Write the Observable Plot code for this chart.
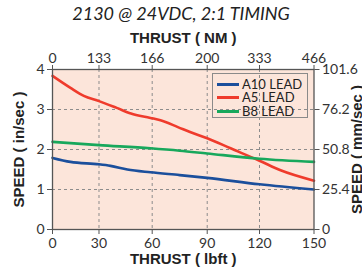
<!DOCTYPE html>
<html><head><meta charset="utf-8">
<script src="https://cdn.jsdelivr.net/npm/d3@7"></script>
<script src="https://cdn.jsdelivr.net/npm/@observablehq/plot@0.6"></script>
<style>
body{margin:0;background:#fff;width:362px;height:273px;overflow:hidden;position:relative;font-family:Lato,"Open Sans",sans-serif;}
#title{height:26px;line-height:26px;text-align:center;font-size:18px;font-style:italic;font-weight:400;color:#222;width:362px;}
#chart svg{display:block;}
#legend{position:absolute;left:212px;top:73px;width:96px;height:45px;border:1px solid #8a8a8a;box-sizing:border-box;}
.row{position:absolute;left:4px;height:13px;line-height:13px;display:flex;align-items:center;font-size:13px;color:#222;}
.row span{line-height:13px;}
.sw{width:22px;height:3px;margin-right:3px;}
</style></head>
<body>
<div id="title">2130 @ 24VDC, 2:1 TIMING</div>
<div id="chart"></div>
<div id="legend"></div>
<script>
const seriesNames = ["A10 LEAD", "A5 LEAD", "B8 LEAD"];
const seriesColors = ["#1b4f9c", "#ef3b2c", "#18a85c"];
const a10X = [0, 11.6, 30, 36.5, 46, 59, 75, 90, 120, 150];
const a10Y = [1.79, 1.69, 1.63, 1.59, 1.50, 1.43, 1.36, 1.29, 1.13, 1.00];
const a5X = [0, 11.6, 20.2, 30, 40, 48, 59, 64.5, 74, 81, 90, 103.4, 120, 131.6, 150];
const a5Y = [3.84, 3.54, 3.34, 3.21, 3.04, 2.90, 2.79, 2.73, 2.56, 2.43, 2.28, 2.03, 1.72, 1.48, 1.22];
const b8X = [0, 30, 59, 75, 90, 120, 150];
const b8Y = [2.19, 2.11, 2.03, 1.97, 1.90, 1.77, 1.69];
const xTicks = [0, 30, 60, 90, 120, 150];
// the printed axis is not evenly spaced: where each tick sits along the axis (0..150 of its length)
const xTickPlacement = [0, 26.67, 57.19, 88.74, 118.74, 150];
const topTickLabels = ["0", "133", "166", "200", "333", "466"];
const yTicks = [0, 1, 2, 3, 4];
const rightTickLabels = ["0", "25.4", "50.8", "76.2", "101.6"];
const xGrid = [30, 60, 90, 120];
const yGrid = [1, 2, 3];

const data = [];
[[a10X, a10Y], [a5X, a5Y], [b8X, b8Y]].forEach(([xs, ys], k) =>
  xs.forEach((x, i) => data.push({series: seriesNames[k], x, y: ys[i]})));

const warp = d3.scaleLinear().domain(xTicks).range(xTickPlacement);
const boldFont = '"Liberation Sans Narrow","Liberation Sans",sans-serif';
const lab = {fontSize: 15, fontWeight: "bold", fontFamily: boldFont, fill: "#222", lineAnchor: "middle", textAnchor: "middle"};
const chart = Plot.plot({
  width: 362, height: 247,
  marginTop: 43, marginBottom: 44, marginLeft: 52, marginRight: 48.5,
  style: {fontFamily: 'Lato,"Open Sans",sans-serif', fontSize: "14px", color: "#333", background: "transparent", overflow: "visible"},
  x: {domain: [0, 150], transform: warp, label: null},
  y: {domain: [0, 4], label: null},
  color: {domain: seriesNames, range: seriesColors},
  marks: [
    Plot.frame({fill: "#fce5da", stroke: "none"}),
    Plot.gridX(xGrid, {stroke: "#8c8c8c", strokeOpacity: 1, strokeDasharray: "3,3"}),
    Plot.gridY(yGrid, {stroke: "#8c8c8c", strokeOpacity: 1, strokeDasharray: "3,3"}),
    Plot.line(data, {x: "x", y: "y", z: "series", stroke: "series", strokeWidth: 2.6, curve: "monotone-x"}),
    Plot.frame({stroke: "#555", strokeWidth: 1.3}),
    Plot.axisX(xTicks, {anchor: "bottom", tickSize: 5, tickPadding: 4, stroke: "#555", fontSize: 14, label: null,
      tickFormat: d => String(d)}),
    Plot.axisX(xTicks, {anchor: "top", tickSize: 5, tickPadding: 2, stroke: "#555", fontSize: 14, label: null,
      tickFormat: d => topTickLabels[xTicks.indexOf(d)]}),
    Plot.axisY(yTicks, {anchor: "left", tickSize: 5, tickPadding: 3, stroke: "#555", fontSize: 14, label: null}),
    Plot.axisY(yTicks, {anchor: "right", tickSize: 5, tickPadding: 3, stroke: "#555", fontSize: 14, label: null,
      tickFormat: d => rightTickLabels[yTicks.indexOf(d)]}),
    Plot.text(["THRUST ( lbft )"], {...lab, frameAnchor: "bottom", dy: 29.5}),
    Plot.text(["THRUST ( NM )"], {...lab, frameAnchor: "top", dy: -31.5}),
    Plot.text(["SPEED ( in/sec )"], {...lab, frameAnchor: "left", dx: -33, rotate: -90}),
    Plot.text(["SPEED ( mm/sec )"], {...lab, frameAnchor: "right", dx: 43, rotate: -90})
  ]
});
document.getElementById("chart").appendChild(chart);

const legend = document.getElementById("legend");
seriesNames.forEach((n, i) => {
  const r = document.createElement("div");
  r.className = "row";
  r.style.top = (3.5 + i * 13.5) + "px";
  r.innerHTML = `<span class="sw" style="background:${seriesColors[i]}"></span><span>${n}</span>`;
  legend.appendChild(r);
});
</script>
</body></html>
